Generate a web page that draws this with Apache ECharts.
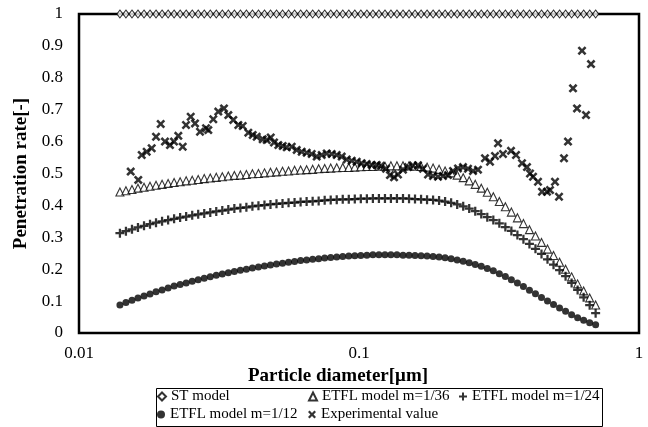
<!DOCTYPE html>
<html><head><meta charset="utf-8">
<script src="https://cdn.jsdelivr.net/npm/echarts@6/dist/echarts.min.js"></script>
<style>html,body{margin:0;padding:0;background:#fff}#c{width:648px;height:427px}</style>
</head><body><div id="c"></div>
<script>
// particle diameters (µm) of the model curves
const dModel = [0.01400,0.01471,0.01546,0.01624,0.01707,0.01793,0.01884,0.01980,0.02081,0.02186,
0.02297,0.02414,0.02537,0.02665,0.02801,0.02943,0.03092,0.03249,0.03414,0.03588,
0.03770,0.03961,0.04162,0.04374,0.04596,0.04829,0.05074,0.05332,0.05603,0.05887,
0.06186,0.06500,0.06830,0.07177,0.07541,0.07924,0.08327,0.08749,0.09194,0.09660,
0.1015,0.1067,0.1121,0.1178,0.1238,0.1300,0.1366,0.1436,0.1509,0.1585,
0.1666,0.1750,0.1839,0.1932,0.2030,0.2133,0.2242,0.2356,0.2475,0.2601,
0.2733,0.2872,0.3018,0.3171,0.3332,0.3501,0.3679,0.3866,0.4062,0.4268,
0.4485,0.4712,0.4951,0.5203,0.5467,0.5745,0.6036,0.6343,0.6665,0.7000];

const stModel = [1,1,1,1,1,1,1,1,1,1, 1,1,1,1,1,1,1,1,1,1, 1,1,1,1,1,1,1,1,1,1, 1,1,1,1,1,1,1,1,1,1,
1,1,1,1,1,1,1,1,1,1, 1,1,1,1,1,1,1,1,1,1, 1,1,1,1,1,1,1,1,1,1, 1,1,1,1,1,1,1,1,1,1];

const etfl36 = [0.442,0.446,0.450,0.454,0.457,0.460,0.463,0.466,0.469,0.472,
0.474,0.477,0.479,0.481,0.484,0.486,0.488,0.490,0.492,0.494,
0.495,0.497,0.499,0.500,0.502,0.504,0.505,0.507,0.508,0.510,
0.511,0.512,0.513,0.515,0.516,0.517,0.518,0.519,0.519,0.520,
0.521,0.522,0.522,0.523,0.523,0.524,0.524,0.524,0.524,0.523,
0.522,0.520,0.517,0.513,0.508,0.502,0.495,0.487,0.477,0.466,
0.454,0.441,0.427,0.412,0.396,0.379,0.361,0.343,0.324,0.304,
0.284,0.263,0.243,0.222,0.200,0.176,0.154,0.132,0.110,0.088];

const etfl24 = [0.313,0.319,0.325,0.331,0.336,0.341,0.346,0.350,0.354,0.358,
0.362,0.365,0.369,0.372,0.375,0.378,0.381,0.384,0.387,0.390,
0.392,0.394,0.397,0.399,0.401,0.403,0.405,0.406,0.408,0.409,
0.411,0.412,0.413,0.414,0.416,0.417,0.418,0.419,0.419,0.420,
0.421,0.421,0.422,0.422,0.422,0.422,0.422,0.422,0.421,0.420,
0.419,0.418,0.417,0.415,0.412,0.408,0.403,0.397,0.390,0.382,
0.373,0.363,0.354,0.344,0.332,0.320,0.307,0.294,0.279,0.264,
0.248,0.231,0.214,0.197,0.178,0.157,0.135,0.112,0.087,0.062];

const etfl12 = [0.088,0.096,0.103,0.110,0.116,0.122,0.129,0.135,0.141,0.147,
0.152,0.157,0.162,0.167,0.172,0.176,0.181,0.185,0.189,0.193,
0.197,0.200,0.204,0.207,0.210,0.213,0.216,0.219,0.222,0.224,
0.227,0.229,0.231,0.233,0.235,0.237,0.238,0.240,0.241,0.242,
0.243,0.244,0.245,0.245,0.245,0.245,0.245,0.244,0.244,0.243,
0.242,0.241,0.240,0.238,0.236,0.233,0.229,0.225,0.220,0.215,
0.209,0.202,0.195,0.186,0.177,0.167,0.157,0.146,0.134,0.123,
0.111,0.100,0.089,0.078,0.068,0.057,0.048,0.040,0.032,0.026];

// experimental values
const dExp = [0.01530,0.01628,0.01675,0.01745,0.01818,0.01884,0.01958,0.02028,0.02113,0.02184,
0.02263,0.02346,0.02411,0.02506,0.02596,0.02705,0.02842,0.02896,0.03017,0.03144,
0.03295,0.03414,0.03557,0.03707,0.03843,0.04024,0.04173,0.04312,0.04530,0.04682,
0.04839,0.04972,0.05151,0.05340,0.05519,0.05750,0.05991,0.06243,0.06505,0.06778,
0.07063,0.07359,0.07668,0.07990,0.08325,0.08675,0.09039,0.09419,0.09813,0.1022,
0.1065,0.1110,0.1157,0.1198,0.1249,0.1290,0.1334,0.1378,0.1436,0.1496,
0.1559,0.1624,0.1693,0.1764,0.1838,0.1915,0.1995,0.2079,0.2166,0.2257,
0.2352,0.2451,0.2554,0.2661,0.2818,0.2937,0.3060,0.3137,0.3268,0.3490,
0.3637,0.3821,0.3981,0.4081,0.4183,0.4358,0.4504,0.4693,0.4810,0.5012,
0.5180,0.5397,0.5578,0.5812,0.6006,0.6258,0.6467,0.6739];
const expValue = [0.506,0.480,0.558,0.568,0.579,0.615,0.655,0.600,0.589,0.600,
0.618,0.584,0.652,0.678,0.657,0.631,0.642,0.636,0.670,0.694,
0.704,0.683,0.668,0.652,0.649,0.628,0.621,0.615,0.607,0.605,
0.613,0.597,0.589,0.586,0.582,0.584,0.574,0.568,0.565,0.561,
0.553,0.558,0.563,0.561,0.558,0.553,0.544,0.540,0.537,0.532,
0.530,0.527,0.527,0.524,0.515,0.495,0.488,0.497,0.512,0.520,
0.525,0.526,0.515,0.497,0.492,0.490,0.492,0.495,0.508,0.516,
0.520,0.515,0.508,0.512,0.548,0.537,0.555,0.595,0.561,0.571,
0.558,0.532,0.520,0.500,0.490,0.474,0.443,0.443,0.448,0.474,
0.427,0.548,0.600,0.767,0.704,0.885,0.683,0.843];

const xTicks = [0.01, 0.1, 1];
const seriesNames = ['ST model','ETFL model m=1/36','ETFL model m=1/24','ETFL model m=1/12','Experimental value'];

const pair = (xs, ys) => xs.map((x, i) => [x, ys[i]]);
const FONT = '"Liberation Serif","Times New Roman",serif';
const PLUS = 'path://M3,0H5V3H8V5H5V8H3V5H0V3H3Z';
const CROSS = 'path://M0,1.6L1.6,0L4,2.4L6.4,0L8,1.6L5.6,4L8,6.4L6.4,8L4,5.6L1.6,8L0,6.4L2.4,4Z';

// one legend block per entry so the two rows line up in columns
const legendSlots = [[157, 389], [308, 389], [459, 389], [157, 407], [308, 407]];
const legends = seriesNames.map((n, i) => ({
  data: [n], left: legendSlots[i][0], top: legendSlots[i][1], padding: 0,
  itemWidth: 8, itemHeight: 8, selectedMode: false,
  textStyle: {color: '#000', fontFamily: FONT, fontSize: 15}
}));

const chart = echarts.init(document.getElementById('c'), null, {renderer: 'canvas'});
chart.setOption({
  animation: false,
  backgroundColor: '#fff',
  grid: {left: 79, right: 9, top: 14, bottom: 94, show: true, borderColor: '#000', borderWidth: 2.5, backgroundColor: 'transparent'},
  graphic: [{type: 'rect', left: 154, top: 386, shape: {width: 446, height: 38},
    style: {fill: 'none', stroke: '#000', lineWidth: 1}, silent: true}],
  xAxis: {
    type: 'log', logBase: 10, min: 0.01, max: 1,
    axisLine: {show: false}, axisTick: {show: false}, splitLine: {show: false},
    axisLabel: {color: '#000', fontFamily: FONT, fontSize: 17, margin: 12,
      formatter: v => { const t = xTicks.find(k => Math.abs(k - v) / k < 1e-6); return t === undefined ? '' : String(t); }},
    name: 'Particle diameter[μm]', nameLocation: 'middle', nameGap: 29,
    nameTextStyle: {color: '#000', fontFamily: FONT, fontSize: 19, fontWeight: 'bold', padding: [0, 42, 0, 0]}
  },
  yAxis: {
    type: 'value', min: 0, max: 1, interval: 0.1,
    axisLine: {show: false}, axisTick: {show: false}, splitLine: {show: false},
    axisLabel: {color: '#000', fontFamily: FONT, fontSize: 17, margin: 16,
      formatter: v => String(Math.round(v * 10) / 10)},
    name: 'Penetration rate[-]', nameLocation: 'middle', nameGap: 43,
    nameTextStyle: {color: '#000', fontFamily: FONT, fontSize: 19, fontWeight: 'bold'}
  },
  legend: legends,
  series: [
    {name: seriesNames[0], type: 'scatter', symbol: 'diamond', symbolSize: [6, 8],
     itemStyle: {color: '#fff', borderColor: '#000', borderWidth: 1}, data: pair(dModel, stModel)},
    {name: seriesNames[1], type: 'scatter', symbol: 'triangle', symbolSize: 8,
     itemStyle: {color: '#fff', borderColor: '#000', borderWidth: 1.1}, data: pair(dModel, etfl36)},
    {name: seriesNames[2], type: 'scatter', symbol: PLUS, symbolSize: 9,
     itemStyle: {color: '#000'}, data: pair(dModel, etfl24)},
    {name: seriesNames[3], type: 'scatter', symbol: 'circle', symbolSize: 7,
     itemStyle: {color: '#000'}, data: pair(dModel, etfl12)},
    {name: seriesNames[4], type: 'scatter', symbol: CROSS, symbolSize: 9,
     itemStyle: {color: '#000'}, data: pair(dExp, expValue)}
  ]
});
</script></body></html>
